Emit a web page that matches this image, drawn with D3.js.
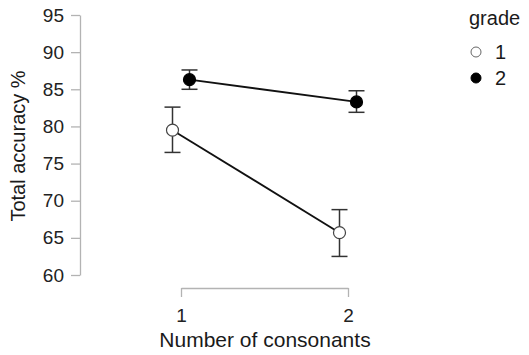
<!DOCTYPE html>
<html>
<head>
<meta charset="utf-8">
<script src="https://cdn.jsdelivr.net/npm/d3@7"></script>
<style>
  body { margin: 0; background: #fff; }
  text { font-family: "Liberation Sans", Arial, sans-serif; }
</style>
</head>
<body>
<div class="chart"></div>
<script>
var width = 529;
var height = 355;

// data
var consonants = [1, 2];
var grades = ["1", "2"];
var means = { "1": [79.5, 65.7], "2": [86.3, 83.3] };
var lower = { "1": [76.5, 62.5], "2": [85.0, 81.9] };
var upper = { "1": [82.6, 68.8], "2": [87.6, 84.8] };
var yTicks = [60, 65, 70, 75, 80, 85, 90, 95];

var fills = { "1": "#ffffff", "2": "#000000" };
var dodge = { "1": -8.5, "2": 8.5 };
var axisColor = "#b3b3b3";

var svg = d3.select('.chart').append('svg')
	.attr('width', width)
	.attr('height', height);

var x = d3.scaleLinear().domain([1, 2]).range([181, 348]);
var y = d3.scaleLinear().domain([60, 95]).range([275, 15]);

// y axis
var yAxis = svg.append('g')
	.attr('transform', 'translate(80,0)')
	.call(d3.axisLeft(y).tickValues(yTicks).tickSize(9).tickSizeOuter(0).tickPadding(7));
yAxis.selectAll('path, line').attr('stroke', axisColor).attr('stroke-width', 1.3);
yAxis.selectAll('text').attr('font-size', 19).attr('fill', '#222');

// x axis
var xAxis = svg.append('g')
	.attr('transform', 'translate(0,288)')
	.call(d3.axisBottom(x).tickValues(consonants).tickFormat(d3.format('d')).tickSize(9).tickSizeOuter(0).tickPadding(12));
xAxis.selectAll('path, line').attr('stroke', axisColor).attr('stroke-width', 1.3);
xAxis.selectAll('text').attr('font-size', 19).attr('fill', '#222');

// axis titles
svg.append('text')
	.attr('x', 265).attr('y', 347)
	.attr('text-anchor', 'middle')
	.attr('font-size', 21)
	.attr('fill', '#1a1a1a')
	.text('Number of consonants');

svg.append('text')
	.attr('transform', 'translate(25,146) rotate(-90)')
	.attr('text-anchor', 'middle')
	.attr('font-size', 20)
	.attr('fill', '#1a1a1a')
	.text('Total accuracy %');

// lines, error bars, points per grade
var line = d3.line()
	.x(function(d) { return x(d.c) + dodge[d.g]; })
	.y(function(d) { return y(d.m); });

grades.forEach(function(g) {
	var pts = consonants.map(function(c, i) {
		return { c: c, g: g, m: means[g][i], lo: lower[g][i], hi: upper[g][i] };
	});

	svg.append('path')
		.datum(pts)
		.attr('d', line)
		.attr('fill', 'none')
		.attr('stroke', '#111')
		.attr('stroke-width', 1.8);

	var bars = svg.append('g').selectAll('g').data(pts).enter().append('g')
		.attr('stroke', '#333')
		.attr('stroke-width', 1.5);
	bars.append('line')
		.attr('x1', d => x(d.c) + dodge[g]).attr('x2', d => x(d.c) + dodge[g])
		.attr('y1', d => y(d.lo)).attr('y2', d => y(d.hi));
	bars.append('line')
		.attr('x1', d => x(d.c) + dodge[g] - 8).attr('x2', d => x(d.c) + dodge[g] + 8)
		.attr('y1', d => y(d.lo)).attr('y2', d => y(d.lo));
	bars.append('line')
		.attr('x1', d => x(d.c) + dodge[g] - 8).attr('x2', d => x(d.c) + dodge[g] + 8)
		.attr('y1', d => y(d.hi)).attr('y2', d => y(d.hi));

	svg.append('g').selectAll('circle').data(pts).enter().append('circle')
		.attr('cx', d => x(d.c) + dodge[g])
		.attr('cy', d => y(d.m))
		.attr('r', 6)
		.attr('fill', fills[g])
		.attr('stroke', g == "1" ? '#444' : '#000')
		.attr('stroke-width', 1.2);
});

// legend
var legend = svg.append('g').attr('transform', 'translate(469,0)');
legend.append('text')
	.attr('x', 0).attr('y', 25)
	.attr('font-size', 20)
	.attr('fill', '#1a1a1a')
	.text('grade');
var items = legend.selectAll('g.item').data(grades).enter().append('g')
	.attr('class', 'item')
	.attr('transform', function(d, i) { return 'translate(0,' + (52 + i * 26) + ')'; });
items.append('circle')
	.attr('cx', 7).attr('cy', 0).attr('r', 5)
	.attr('fill', d => fills[d])
	.attr('stroke', d => d == "1" ? '#666' : '#000')
	.attr('stroke-width', 1);
items.append('text')
	.attr('x', 26).attr('y', 0).attr('dy', '0.36em')
	.attr('font-size', 20)
	.attr('fill', '#1a1a1a')
	.text(d => d);
</script>
</body>
</html>
